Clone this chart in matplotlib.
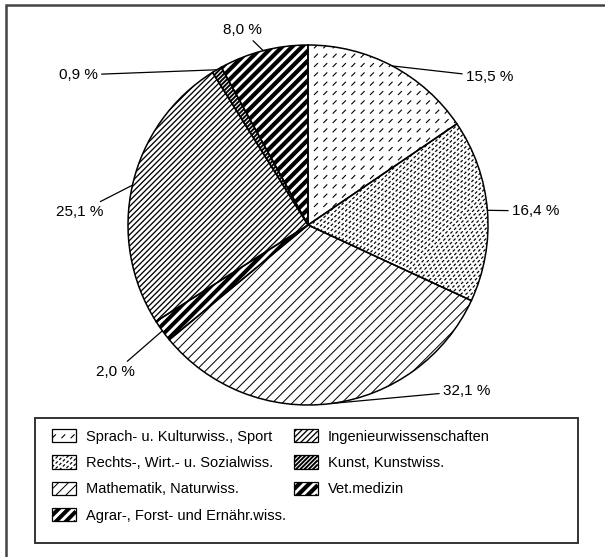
import numpy as np
import matplotlib.pyplot as plt
from matplotlib.patches import Rectangle
from matplotlib.collections import LineCollection
from matplotlib.legend_handler import HandlerBase

plt.rcParams['font.family'] = ['Liberation Sans', 'DejaVu Sans']
plt.rcParams['lines.scale_dashes'] = False

faecher = ['Sprach- u. Kulturwiss., Sport',
           'Rechts-, Wirt.- u. Sozialwiss.',
           'Mathematik, Naturwiss.',
           'Agrar-, Forst- und Ernähr.wiss.',
           'Ingenieurwissenschaften',
           'Kunst, Kunstwiss.',
           'Vet.medizin']
anteile = [15.5, 16.4, 32.1, 2.0, 25.1, 0.9, 8.0]

# schraffur: (abstand px, linienbreite px, strich (an, aus) px oder None)
muster = [(6.6, 1.1, (5.5, 7.7)),
          (3.6, 1.2, (3.0, 2.1)),
          (7.0, 1.0, None),
          (7.0, 4.0, None),
          (4.0, 1.3, None),
          (3.0, 1.9, None),
          (7.0, 4.2, None)]

# label-positionen in bildpixeln (x, y von oben)
label_pos = [(490, 77), (536, 211), (467, 391), (115, 372),
             (80, 212), (78, 75), (242, 30)]

W, H = 605, 557
PX = 72 / 100
cx, cy, r = 308, H - 225, 180


def schraffur(x0, y0, x1, y1, abstand, lw, dash):
    step = abstand * np.sqrt(2)
    cs = np.arange(y0 - x1, y1 - x0 + step, step)
    segs = [[(x0, x0 + c), (x1, x1 + c)] for c in cs]
    ls = 'solid' if dash is None else (0, (dash[0] * PX, dash[1] * PX))
    return LineCollection(segs, colors='black', linewidths=lw * PX,
                          linestyles=ls, capstyle='butt')


class MusterHandler(HandlerBase):
    def __init__(self, spec):
        super().__init__()
        self.spec = spec

    def create_artists(self, legend, orig_handle, xdescent, ydescent,
                       width, height, fontsize, trans):
        x0, y0 = -xdescent, -ydescent
        rect = Rectangle((x0, y0), width, height, facecolor='none',
                         edgecolor='black', lw=0.9, transform=trans)
        a, lw, dash = self.spec
        lc = schraffur(x0, y0, x0 + width, y0 + height, a * PX, lw, dash)
        lc.set_transform(trans)
        lc.set_clip_path(rect)
        return [lc, rect]


fig = plt.figure(figsize=(W / 100, H / 100), dpi=100)
ax = fig.add_axes([0, 0, 1, 1])

wedges, _ = ax.pie(anteile, center=(cx, cy), radius=r, startangle=90,
                   counterclock=False,
                   wedgeprops=dict(facecolor='none', edgecolor='black',
                                   linewidth=1.1, zorder=2))
ax.set_xlim(0, W)
ax.set_ylim(0, H)
ax.set_aspect('equal')
ax.axis('off')

for w, m in zip(wedges, muster):
    lc = schraffur(cx - r - 10, cy - r - 10, cx + r + 10, cy + r + 10, *m)
    lc.set_zorder(1)
    ax.add_collection(lc)
    lc.set_clip_path(w)

for w, v, (tx, ty) in zip(wedges, anteile, label_pos):
    ang = np.deg2rad((w.theta1 + w.theta2) / 2)
    xy = (cx + r * np.cos(ang), cy + r * np.sin(ang))
    ax.annotate(f'{v:.1f} %'.replace('.', ','), xy=xy, xytext=(tx, H - ty),
                ha='center', va='center', fontsize=11,
                arrowprops=dict(arrowstyle='-', lw=0.9, color='black',
                                shrinkA=1, shrinkB=0))

# aeusserer rahmen und legendenrahmen
ax.add_patch(Rectangle((6, -30), 700, H - 5 + 30, facecolor='none',
                       edgecolor='#444444', lw=1.8))
ax.add_patch(Rectangle((35, H - 543), 543, 125, facecolor='none',
                       edgecolor='#333333', lw=1.4))

ax.legend(wedges, faecher, ncol=2, loc='upper left',
          bbox_to_anchor=(52, H - 429), bbox_transform=ax.transData,
          frameon=False, fontsize=10.5, borderpad=0, borderaxespad=0,
          handlelength=1.64, handleheight=1.03, handletextpad=0.68,
          columnspacing=0.55, labelspacing=0.8,
          handler_map={w: MusterHandler(m) for w, m in zip(wedges, muster)})

fig.savefig('out.png', dpi=100)
